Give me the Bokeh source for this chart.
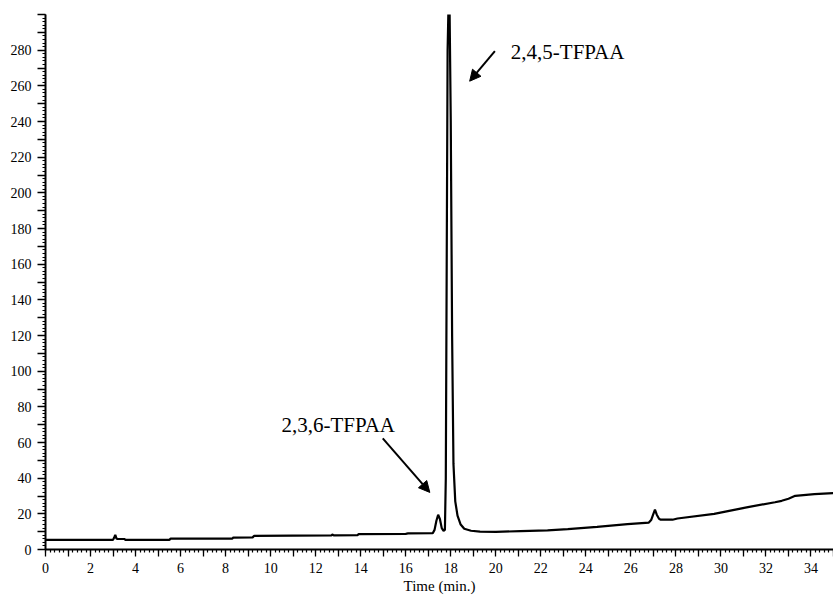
from bokeh.plotting import figure
from bokeh.models import (Range1d, FixedTicker, Arrow, NormalHead, Label)
from bokeh.embed import file_html
from bokeh.resources import INLINE

# ---- data ----
time_min = [0, 3.0, 3.06, 3.1, 3.15, 3.2, 3.5, 3.55, 5.5, 5.56, 8.3, 8.34, 9.2, 9.26,
            12.7, 12.74, 12.8, 13.86, 13.9, 16.0, 16.1, 17.2, 17.28, 17.36, 17.44, 17.52,
            17.6, 17.68, 17.74, 17.78, 17.82, 17.86, 17.9, 17.95, 18.0, 18.06, 18.12, 18.2,
            18.3, 18.44, 18.6, 18.9, 19.3, 20.0, 21.1, 22.3, 23.2, 24.5, 25.85, 26.8, 26.9,
            27.0, 27.07, 27.15, 27.25, 27.33, 27.85, 28.07, 29.7, 31.2, 32.4, 32.7, 33.0,
            33.3, 34.15, 35.0]
signal = [5.4, 5.4, 7.0, 8.2, 6.2, 5.9, 5.9, 5.4, 5.4, 6.1, 6.1, 6.7, 6.8, 7.6,
          7.9, 8.4, 7.9, 8.0, 8.6, 8.8, 9.0, 9.1, 11, 16, 19.5, 17,
          12, 10.5, 11, 40, 160, 280, 305, 300, 240, 120, 48, 27,
          19, 14, 11.6, 10.5, 10.0, 9.9, 10.3, 10.7, 11.4, 12.7, 14.2, 15.1, 16.5,
          20, 22.3, 19.5, 17.2, 16.7, 16.7, 17.4, 20.0, 23.8, 26.5, 27.3, 28.5,
          30.1, 31.0, 31.6]

x_major = list(range(0, 36, 1))
x_labelled = list(range(0, 35, 2))
x_minor = [round(i * 0.2, 1) for i in range(0, 176)]
y_major = list(range(0, 301, 10))
y_labelled = list(range(0, 281, 20))
y_minor = list(range(0, 301, 2))

peak_labels = ["2,4,5-TFPAA", "2,3,6-TFPAA"]
label_pos = [(20.67, 279.0), (10.48, 70.0)]
arrow_pos = [((19.96, 279.5), (18.84, 262.6)), ((14.98, 62.3), (17.07, 32.0))]

FONT = "Liberation Serif"

p = figure(width=833, height=596, output_backend="svg", toolbar_location=None,
           x_range=Range1d(0, 35), y_range=Range1d(0, 300),
           min_border_left=45, min_border_right=0, min_border_top=14, min_border_bottom=47)
p.outline_line_color = None
p.grid.visible = False
p.background_fill_color = "white"

p.line(time_min, signal, line_color="black", line_width=2.2)

# axes styling
p.xaxis.ticker = FixedTicker(ticks=x_major, minor_ticks=x_minor)
p.yaxis.ticker = FixedTicker(ticks=y_major, minor_ticks=y_minor)
p.xaxis.major_label_overrides = {v: (str(v) if v in x_labelled else "") for v in x_major}
p.yaxis.major_label_overrides = {v: (str(v) if v in y_labelled else "") for v in y_major}
for ax in (p.xaxis, p.yaxis):
    ax.axis_line_width = 2
    ax.axis_line_color = "black"
    ax.major_tick_out = 7
    ax.major_tick_in = 0
    ax.minor_tick_out = 3
    ax.minor_tick_in = 0
    ax.major_tick_line_color = "black"
    ax.minor_tick_line_color = "black"
    ax.major_tick_line_width = 1.3
    ax.minor_tick_line_width = 1.2
    ax.major_label_text_font = FONT
    ax.major_label_text_font_size = "14px"
    ax.major_label_text_color = "black"
p.xaxis.major_label_standoff = 6
p.yaxis.major_tick_out = 8
p.yaxis.major_label_standoff = 6
p.xaxis.axis_label = "Time (min.)"
p.xaxis.axis_label_text_font = FONT
p.xaxis.axis_label_text_font_size = "15px"
p.xaxis.axis_label_text_font_style = "normal"
p.xaxis.axis_label_text_color = "black"
p.xaxis.axis_label_standoff = 2

for txt, (lx, ly) in zip(peak_labels, label_pos):
    p.add_layout(Label(x=lx, y=ly, text=txt, text_font=FONT, text_font_size="21px",
                       text_color="black", text_baseline="alphabetic"))
for (s, e) in arrow_pos:
    p.add_layout(Arrow(end=NormalHead(size=11, fill_color="black", line_color="black"),
                       x_start=s[0], y_start=s[1], x_end=e[0], y_end=e[1],
                       line_width=2, line_color="black"))

open("out.html", "w").write(file_html(p, INLINE))
